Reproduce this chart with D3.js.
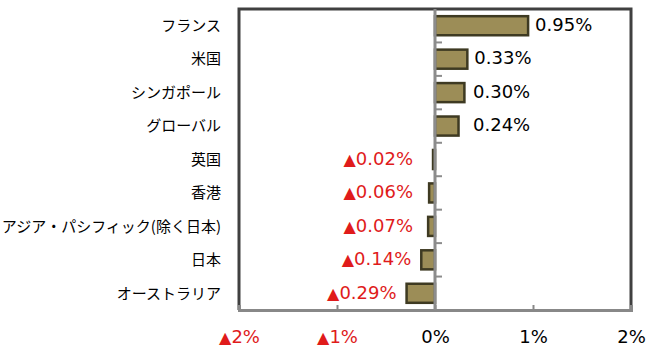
<!DOCTYPE html>
<html><head><meta charset="utf-8">
<script src="https://cdn.jsdelivr.net/npm/d3@7"></script>
<style>
html,body{margin:0;padding:0;background:#fff;}
svg{display:block;}
</style></head>
<body>
<script>
const categories = ["フランス","米国","シンガポール","グローバル","英国","香港","アジア・パシフィック(除く日本)","日本","オーストラリア"];
const values = [0.95, 0.33, 0.30, 0.24, -0.02, -0.06, -0.07, -0.14, -0.29];
const xTicks = [-2, -1, 0, 1, 2];

const W = 663, H = 357;
const pLeft = 239, pRight = 631, pTop = 9, pBottom = 310;
const svg = d3.select("body").append("svg").attr("width", W).attr("height", H);

const x = d3.scaleLinear().domain([-2, 2]).range([pLeft, pRight]);
const y = d3.scaleBand().domain(categories).range([pTop, pBottom]).paddingInner(0.43).paddingOuter(0.215);

const numFont = "'DejaVu Sans', Verdana, sans-serif";
const jpFont = "'Noto Sans CJK JP', sans-serif";
const red = "#e01b1b";

function writeLabel(sel, v, digits) {
  sel.text(null);
  if (v < 0) sel.append("tspan").attr("font-size", 16).text("▲");
  sel.append("tspan").text(Math.abs(v).toFixed(digits) + "%");
}

// bars
svg.append("g").selectAll("rect").data(values).join("rect")
  .attr("x", d => Math.min(x(0), x(d)))
  .attr("y", (d, i) => y(categories[i]))
  .attr("width", d => Math.abs(x(d) - x(0)))
  .attr("height", y.bandwidth())
  .attr("fill", "#9c8d57")
  .attr("stroke", "#3e3a22")
  .attr("stroke-width", 2.5);

// frame: left, top, right dark
svg.append("path")
  .attr("d", `M${pLeft},${pBottom} V${pTop} H${pRight} V${pBottom}`)
  .attr("fill", "none").attr("stroke", "#404040").attr("stroke-width", 3);

// bottom axis
const xAxis = svg.append("g").attr("transform", `translate(0,${pBottom})`)
  .call(d3.axisBottom(x).tickValues(xTicks).tickSize(-5).tickPadding(0));
xAxis.select(".domain").attr("stroke", "#888").attr("stroke-width", 3);
xAxis.selectAll(".tick line").attr("stroke", "#888").attr("stroke-width", 2);
xAxis.selectAll(".tick text")
  .attr("y", 27).attr("dy", "0.35em")
  .attr("font-family", numFont).attr("font-size", 18)
  .attr("fill", d => d < 0 ? red : "#000")
  .each(function(d) { writeLabel(d3.select(this), d, 0); });

// zero axis with category ticks
const zero = svg.append("g").attr("transform", `translate(${x(0)},0)`);
const bounds = d3.range(1, categories.length).map(i => y(categories[i]) - y.step() * y.paddingInner() / 2);
zero.append("line").attr("y1", pTop).attr("y2", pBottom).attr("stroke", "#8c8c8c").attr("stroke-width", 3);
zero.selectAll("line.t").data(bounds).join("line").attr("class", "t")
  .attr("x1", 0).attr("x2", 7).attr("y1", d => d).attr("y2", d => d)
  .attr("stroke", "#8c8c8c").attr("stroke-width", 2);

// category labels
svg.append("g").selectAll("text").data(categories).join("text")
  .attr("x", 221)
  .attr("y", d => y(d) + y.bandwidth() / 2)
  .attr("dy", "0.35em")
  .attr("text-anchor", "end")
  .attr("font-family", jpFont).attr("font-size", 15).attr("fill", "#000")
  .text(d => d);

// value labels
svg.append("g").selectAll("text").data(values).join("text")
  .attr("x", d => d >= 0 ? Math.max(x(d) + 7, x(0) + 38) : Math.min(x(d) - 10, x(0) - 22))
  .attr("y", (d, i) => y(categories[i]) + y.bandwidth() / 2 - 1)
  .attr("dy", "0.35em")
  .attr("text-anchor", d => d >= 0 ? "start" : "end")
  .attr("font-family", numFont).attr("font-size", 18)
  .attr("fill", d => d < 0 ? red : "#000")
  .each(function(d) { writeLabel(d3.select(this), d, 2); });
</script>
</body></html>
